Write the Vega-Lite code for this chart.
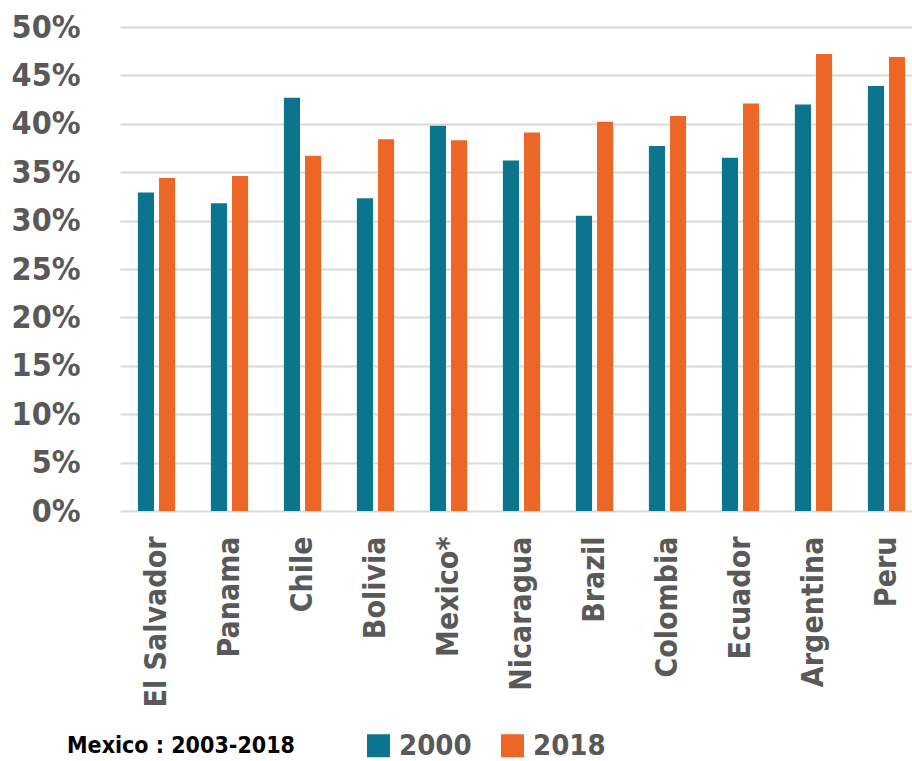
{
  "$schema": "https://vega.github.io/schema/vega-lite/v6.json",
  "width": 792,
  "height": 484,
  "autosize": {"type": "none"},
  "padding": {"left": 120, "top": 27, "right": 0, "bottom": 250},
  "background": "white",
  "config": {
    "view": {"stroke": null},
    "font": "DejaVu Sans Condensed"
  },
  "data": {
    "values": [
      {"country": "El Salvador", "year": "2000", "share": 0.329},
      {"country": "El Salvador", "year": "2018", "share": 0.344},
      {"country": "Panama", "year": "2000", "share": 0.318},
      {"country": "Panama", "year": "2018", "share": 0.346},
      {"country": "Chile", "year": "2000", "share": 0.427},
      {"country": "Chile", "year": "2018", "share": 0.367},
      {"country": "Bolivia", "year": "2000", "share": 0.323},
      {"country": "Bolivia", "year": "2018", "share": 0.384},
      {"country": "Mexico*", "year": "2000", "share": 0.398},
      {"country": "Mexico*", "year": "2018", "share": 0.383},
      {"country": "Nicaragua", "year": "2000", "share": 0.362},
      {"country": "Nicaragua", "year": "2018", "share": 0.391},
      {"country": "Brazil", "year": "2000", "share": 0.305},
      {"country": "Brazil", "year": "2018", "share": 0.402},
      {"country": "Colombia", "year": "2000", "share": 0.377},
      {"country": "Colombia", "year": "2018", "share": 0.408},
      {"country": "Ecuador", "year": "2000", "share": 0.365},
      {"country": "Ecuador", "year": "2018", "share": 0.421},
      {"country": "Argentina", "year": "2000", "share": 0.420},
      {"country": "Argentina", "year": "2018", "share": 0.472},
      {"country": "Peru", "year": "2000", "share": 0.439},
      {"country": "Peru", "year": "2018", "share": 0.469}
    ]
  },
  "mark": {"type": "bar"},
  "encoding": {
    "x": {
      "field": "country",
      "type": "nominal",
      "sort": null,
      "title": null,
      "scale": {"range": [0, 803], "paddingInner": 0.49, "paddingOuter": 0.245},
      "axis": {
        "labelAngle": -90,
        "labelFont": "DejaVu Sans Condensed",
        "labelFontWeight": "bold",
        "labelFontSize": 30,
        "labelColor": "#595959",
        "labelPadding": 25,
        "labelLimit": 300,
        "domain": false,
        "ticks": false,
        "grid": false
      }
    },
    "xOffset": {
      "field": "year",
      "type": "nominal",
      "scale": {"paddingInner": 0.238}
    },
    "y": {
      "field": "share",
      "type": "quantitative",
      "title": null,
      "scale": {"domain": [0, 0.5], "nice": false},
      "axis": {
        "values": [0, 0.05, 0.1, 0.15, 0.2, 0.25, 0.3, 0.35, 0.4, 0.45, 0.5],
        "format": ".0%",
        "labelFont": "DejaVu Sans Condensed",
        "labelFontWeight": "bold",
        "labelFontSize": 32,
        "labelColor": "#595959",
        "labelPadding": 40,
        "domain": false,
        "ticks": false,
        "grid": true,
        "gridColor": "#d9d9d9",
        "gridWidth": 2
      }
    },
    "color": {
      "field": "year",
      "type": "nominal",
      "scale": {"domain": ["2000", "2018"], "range": ["#0b748f", "#ec6726"]},
      "legend": {
        "orient": "none",
        "legendX": -53,
        "legendY": 704,
        "direction": "horizontal",
        "title": "Mexico : 2003-2018",
        "titleOrient": "left",
        "titleFont": "DejaVu Sans Condensed",
        "titleFontWeight": "bold",
        "titleFontSize": 23,
        "titleColor": "#000000",
        "titlePadding": 69,
        "titleBaseline": "middle",
        "titleLimit": 400,
        "symbolType": "square",
        "symbolSize": 529,
        "symbolStrokeWidth": 0,
        "labelFont": "DejaVu Sans Condensed",
        "labelFontWeight": "bold",
        "labelFontSize": 29,
        "labelColor": "#595959",
        "labelOffset": 6,
        "columnPadding": 26
      }
    }
  }
}
